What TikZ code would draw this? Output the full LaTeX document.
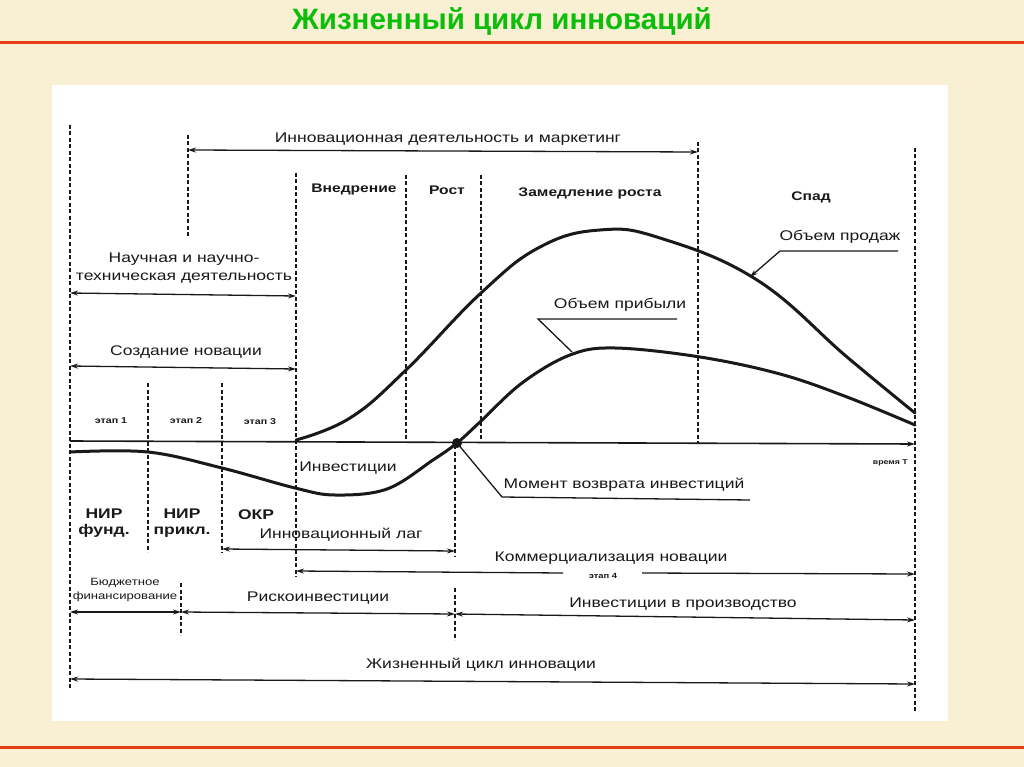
\documentclass[tikz,border=0pt]{standalone}
\usepackage{fontspec}
\setmainfont{Liberation Sans}[FakeStretch=1.25]
\newfontfamily\titlefont{Liberation Sans}
\usetikzlibrary{arrows.meta}
\definecolor{paper}{RGB}{249,239,210}
\definecolor{redrule}{RGB}{232,60,20}
\definecolor{titlegreen}{RGB}{10,190,10}
\definecolor{ink}{RGB}{25,25,25}
\tikzset{
  vdash/.style={draw=ink,line width=1.5pt,dash pattern=on 4pt off 2.5pt},
  dim/.style={draw=ink,line width=1.3pt,{Stealth[length=8pt,width=5pt]}-{Stealth[length=8pt,width=5pt]}},
  curve/.style={draw=ink,line width=3pt,line cap=round,line join=round},
  lead/.style={draw=ink,line width=1.3pt},
  lab/.style={inner sep=0pt,text=ink,font=\fontsize{14}{16}\selectfont},
  blab/.style={inner sep=0pt,text=ink,font=\fontsize{12.5}{14}\selectfont\bfseries},
  tlab/.style={inner sep=0pt,text=ink,font=\fontsize{8.5}{10}\selectfont\bfseries},
  redline/.style={draw=redrule,line width=3pt},
}
\begin{document}
\begin{tikzpicture}[x=1pt,y=-1pt]
\useasboundingbox (0,0) rectangle (1024,767);
\fill[paper] (0,0) rectangle (1024,767);
\fill[white] (52,85) rectangle (948,721);
\draw[redline] (0,43) -- (1024,43);
\draw[redline] (0,747) -- (1024,747);
\node[inner sep=0pt,text=titlegreen,font=\titlefont\bfseries\fontsize{29.5}{31}\selectfont] (title) at (502,21) {Жизненный цикл инноваций};

% vertical dashed lines
\coordinate (v0t) at (70,125);  \coordinate (v0b) at (70,690);
\coordinate (v1t) at (188,135); \coordinate (v1b) at (188,238);
\coordinate (v2t) at (296,173); \coordinate (v2b) at (296,577);
\coordinate (v3t) at (406,175); \coordinate (v3b) at (406,440);
\coordinate (v4t) at (481,175); \coordinate (v4b) at (481,440);
\coordinate (v5t) at (698,142); \coordinate (v5b) at (698,443);
\coordinate (v6t) at (915,148); \coordinate (v6b) at (915,712);
\coordinate (e1t) at (148,383); \coordinate (e1b) at (148,552);
\coordinate (e2t) at (222,383); \coordinate (e2b) at (222,553);
\coordinate (bt) at (181,583);  \coordinate (bb) at (181,635);
\coordinate (m1t) at (455,445); \coordinate (m1b) at (455,556);
\coordinate (m2t) at (455,588); \coordinate (m2b) at (455,640);
\foreach \a/\b in {v0t/v0b,v1t/v1b,v2t/v2b,v3t/v3b,v4t/v4b,v5t/v5b,v6t/v6b,e1t/e1b,e2t/e2b,bt/bb,m1t/m1b,m2t/m2b}
  \draw[vdash] (\a) -- (\b);

% axis
\coordinate (ax0) at (70,441); \coordinate (ax1) at (915,444);
\draw[draw=ink,line width=1.6pt,-{Stealth[length=8pt,width=5pt]}] (ax0) -- (ax1);
\node[tlab,font=\fontsize{7}{8}\selectfont\bfseries,anchor=east] (time) at (908,463) {время T};

% dimension arrows
\coordinate (ia0) at (188,150); \coordinate (ia1) at (698,152);
\draw[dim] (ia0) -- (ia1);
\node[lab] (iatext) at (448,139) {Инновационная деятельность и маркетинг};

\coordinate (na0) at (70,293); \coordinate (na1) at (296,296);
\draw[dim] (na0) -- (na1);
\node[lab,align=center,font=\fontsize{14}{18}\selectfont] (natext) at (184,268) {Научная и научно-\\техническая деятельность};

\coordinate (sn0) at (70,366); \coordinate (sn1) at (296,369);
\draw[dim] (sn0) -- (sn1);
\node[lab] (sntext) at (186,352) {Создание новации};

\coordinate (il0) at (222,549); \coordinate (il1) at (455,551);
\draw[dim] (il0) -- (il1);
\node[lab] (iltext) at (341,535) {Инновационный лаг};

\coordinate (kn0) at (296,571); \coordinate (kn1) at (915,574);
\coordinate (kg0) at (563,573); \coordinate (kg1) at (642,573);
\draw[draw=ink,line width=1.3pt,{Stealth[length=8pt,width=5pt]}-] (kn0) -- (kg0);
\draw[draw=ink,line width=1.3pt,-{Stealth[length=8pt,width=5pt]}] (kg1) -- (kn1);
\node[lab] (kntext) at (611,558) {Коммерциализация новации};
\node[tlab,font=\fontsize{7.5}{9}\selectfont\bfseries] (et4) at (603,576) {этап 4};

\coordinate (bf0) at (70,612); \coordinate (bf1) at (181,612);
\draw[dim] (bf0) -- (bf1);
\node[lab,align=center,font=\fontsize{10.5}{14}\selectfont] (bftext) at (125,590) {Бюджетное\\финансирование};

\coordinate (ri0) at (181,612); \coordinate (ri1) at (455,614);
\draw[dim] (ri0) -- (ri1);
\node[lab] (ritext) at (318,598) {Рискоинвестиции};

\coordinate (ip0) at (455,614); \coordinate (ip1) at (915,620);
\draw[dim] (ip0) -- (ip1);
\node[lab] (iptext) at (683,604) {Инвестиции в производство};

\coordinate (zc0) at (70,679); \coordinate (zc1) at (915,684);
\draw[dim] (zc0) -- (zc1);
\node[lab] (zctext) at (481,665) {Жизненный цикл инновации};

% stage labels
\node[blab] (vn) at (354,189) {Внедрение};
\node[blab] (ro) at (447,190) {Рост};
\node[blab] (zr) at (590,193) {Замедление роста};
\node[blab] (sp) at (811,197) {Спад};
\node[tlab] (et1) at (111,421) {этап 1};
\node[tlab] (et2) at (186,421) {этап 2};
\node[tlab] (et3) at (260,422) {этап 3};
\node[blab,align=center,font=\fontsize{14}{16}\selectfont\bfseries] (nf) at (104,523) {НИР\\фунд.};
\node[blab,align=center,font=\fontsize{14}{16}\selectfont\bfseries] (np) at (182,523) {НИР\\прикл.};
\node[blab,font=\fontsize{14}{16}\selectfont\bfseries] (okr) at (256,515) {ОКР};
\node[lab] (inv) at (348,468) {Инвестиции};

% curves
\draw[curve] plot[smooth,tension=0.7] coordinates {(296,440) (350,418) (406,370) (481,293) (540,247) (600,230) (660,238) (757,280) (847,357) (915,413)};
\draw[curve] plot[smooth,tension=0.6] coordinates {(70,452) (148,452) (222,468) (295,488) (335,495) (387,489) (433,460) (457,443) (480,422) (522,383) (570,355) (615,348) (700,357) (780,374) (847,397) (915,425)};

% leaders
\node[lab] (ops) at (840,237) {Объем продаж};
\coordinate (ops1) at (898,251); \coordinate (ops2) at (780,251); \coordinate (ops3) at (750,277);
\draw[lead,-{Stealth[length=8pt,width=5pt]}] (ops1) -- (ops2) -- (ops3);

\node[lab] (opr) at (620,305) {Объем прибыли};
\coordinate (opr1) at (677,319); \coordinate (opr2) at (538,319); \coordinate (opr3) at (572,352);
\draw[lead] (opr1) -- (opr2) -- (opr3);

\node[fill=ink,circle,inner sep=0pt,minimum size=10pt] (dot) at (457,443) {};
\node[lab] (mv) at (624,485) {Момент возврата инвестиций};
\coordinate (mv1) at (502,497); \coordinate (mv2) at (750,500);
\draw[lead] (dot.center) -- (mv1) -- (mv2);
\end{tikzpicture}
\end{document}
